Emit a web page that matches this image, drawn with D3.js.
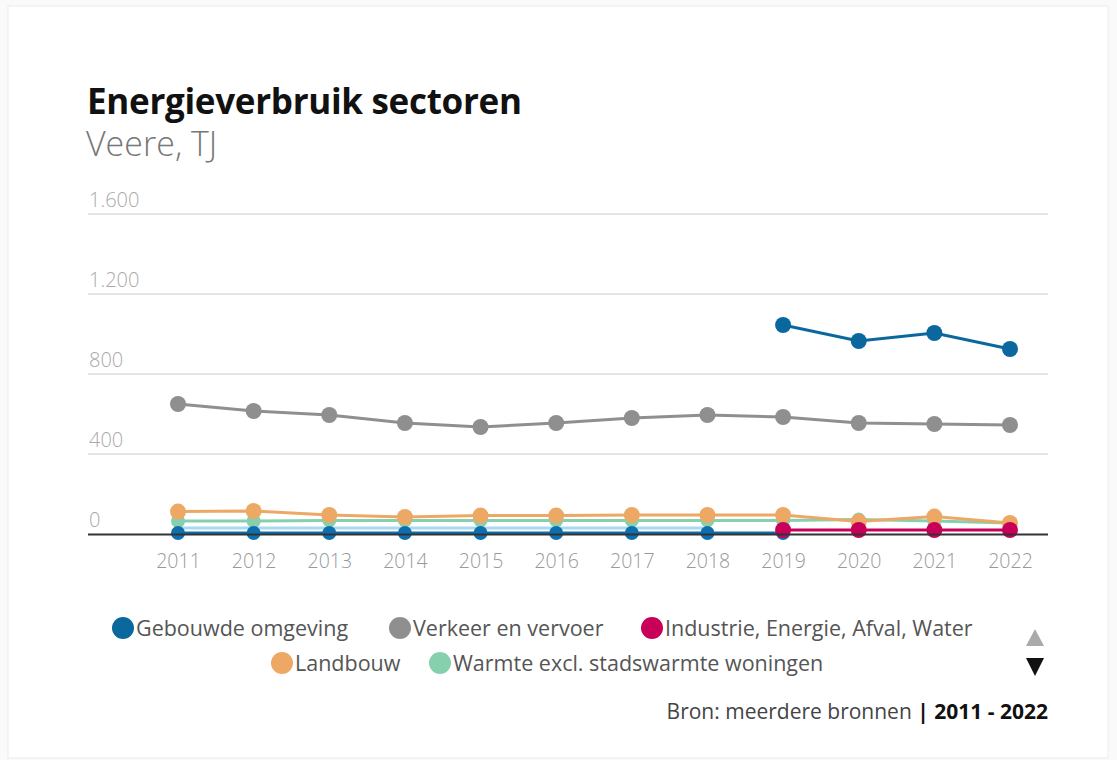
<!DOCTYPE html>
<html>
<head>
<meta charset="utf-8">
<script src="https://cdn.jsdelivr.net/npm/d3@7"></script>
<style>
  body { margin: 0; background: #fafafa; }
  svg { font-family: "Open Sans", "Noto Sans", sans-serif; }
</style>
</head>
<body>
<script>
var years = [2011, 2012, 2013, 2014, 2015, 2016, 2017, 2018, 2019, 2020, 2021, 2022];
var yTicks = [0, 400, 800, 1200, 1600];

// values (TJ), null = no value
var gebouwde   = [null, null, null, null, null, null, null, null, 1045, 965, 1005, 925];
var verkeer    = [650, 615, 595, 555, 535, 555, 580, 595, 585, 555, 550, 545];
var industrie  = [null, null, null, null, null, null, null, null, 20, 20, 20, 20];
var landbouw   = [112, 115, 95, 85, 92, 92, 95, 95, 95, 62, 87, 55];
var warmte     = [65, 65, 68, 68, 68, 68, 68, 68, 68, 72, 65, 55];
// series on the second legend page (only the lines are visible)
var overigLicht = [30, 30, 30, 30, 30, 30, 30, 30, null, null, null, null];
var overigBlauw = [5, 5, 5, 5, 5, 5, 5, 5, 5, null, null, null];

var series = [
  { name: "overig licht", values: overigLicht, color: "#a9d9ef", legend: false, r: 0 },
  { name: "Warmte excl. stadswarmte woningen", values: warmte, color: "#86d0ae", legend: true, r: 7 },
  { name: "Landbouw", values: landbouw, color: "#eda865", legend: true, r: 8 },
  { name: "overig blauw", values: overigBlauw, color: "#0f6fae", legend: false, r: 7 },
  { name: "Industrie, Energie, Afval, Water", values: industrie, color: "#c8005a", legend: true, r: 8 },
  { name: "Verkeer en vervoer", values: verkeer, color: "#8f8f8f", legend: true, r: 8 },
  { name: "Gebouwde omgeving", values: gebouwde, color: "#0a689f", legend: true, r: 8 }
];

var width = 1117, height = 760;
var plot = { left: 88, right: 1048, top: 214, bottom: 534 };

var svg = d3.select("body").append("svg")
  .attr("width", width)
  .attr("height", height);

svg.append("rect")
  .attr("x", 8).attr("y", 6)
  .attr("width", 1100).attr("height", 752)
  .attr("fill", "#fff")
  .attr("stroke", "#ececec");

svg.append("text")
  .attr("x", 87).attr("y", 114)
  .attr("font-size", 35).attr("font-weight", 700)
  .attr("letter-spacing", -0.3)
  .attr("fill", "#111")
  .text("Energieverbruik sectoren");

svg.append("text")
  .attr("x", 86).attr("y", 156)
  .attr("font-size", 34).attr("font-weight", 300)
  .attr("fill", "#777")
  .text("Veere, TJ");

var x = d3.scalePoint().domain(years).range([178, 1010]);
var y = d3.scaleLinear().domain([0, 1600]).range([plot.bottom, plot.top]);

var fmt = d3.formatLocale({ decimal: ",", thousands: ".", grouping: [3], currency: ["€", ""] }).format(",");

// gridlines + labels
var grid = svg.append("g");
yTicks.forEach(function(t) {
  if (t > 0) {
    grid.append("line")
      .attr("x1", plot.left).attr("x2", plot.right)
      .attr("y1", y(t)).attr("y2", y(t))
      .attr("stroke", "#dcdcdc").attr("stroke-width", 1.5);
  }
  grid.append("text")
    .attr("x", 89).attr("y", y(t) - 7)
    .attr("font-size", 20).attr("font-weight", 300)
    .attr("fill", "#aaa")
    .text(fmt(t));
});

var xAxis = svg.append("g")
  .attr("transform", "translate(0," + plot.bottom + ")")
  .call(d3.axisBottom(x).tickSize(0).tickPadding(20));
xAxis.select(".domain").remove();
xAxis.selectAll("text")
  .attr("font-size", 19.5).attr("font-weight", 300)
  .attr("fill", "#999")
  .style("font-family", "'Open Sans', sans-serif");

var line = d3.line()
  .defined(function(d) { return d != null; })
  .x(function(d, i) { return x(years[i]); })
  .y(function(d) { return y(d); });

series.forEach(function(s) {
  var g = svg.append("g");
  g.append("path")
    .datum(s.values)
    .attr("d", line)
    .attr("fill", "none")
    .attr("stroke", s.color)
    .attr("stroke-width", 3);
  g.selectAll("circle")
    .data(s.values.map(function(v, i) { return { v: v, yr: years[i] }; }).filter(function(d) { return d.v != null; }))
    .enter().append("circle")
    .attr("cx", function(d) { return x(d.yr); })
    .attr("cy", function(d) { return y(d.v); })
    .attr("r", s.r)
    .attr("fill", s.color);
});

// baseline
svg.append("line")
  .attr("x1", plot.left).attr("x2", plot.right)
  .attr("y1", plot.bottom + 0.5).attr("y2", plot.bottom + 0.5)
  .attr("stroke", "#333").attr("stroke-width", 2);

// legend
var legendPos = [
  { name: "Gebouwde omgeving", x: 123, y: 628 },
  { name: "Verkeer en vervoer", x: 400, y: 628 },
  { name: "Industrie, Energie, Afval, Water", x: 652, y: 628 },
  { name: "Landbouw", x: 282, y: 663 },
  { name: "Warmte excl. stadswarmte woningen", x: 440, y: 663 }
];
var legend = svg.append("g");
legendPos.forEach(function(p) {
  var s = series.filter(function(d) { return d.name === p.name; })[0];
  legend.append("circle")
    .attr("cx", p.x).attr("cy", p.y).attr("r", 11)
    .attr("fill", s.color);
  legend.append("text")
    .attr("x", p.x + 13).attr("y", p.y + 8)
    .attr("font-size", 21.5)
    .attr("fill", "#555")
    .text(p.name);
});

// paging arrows
svg.append("path")
  .attr("d", "M1026,646 L1044,646 L1035,629 Z")
  .attr("fill", "#aaa");
svg.append("path")
  .attr("d", "M1026,658 L1044,658 L1035,676 Z")
  .attr("fill", "#111");

// source
var src = svg.append("text")
  .attr("x", 1048).attr("y", 719)
  .attr("text-anchor", "end")
  .attr("font-size", 21)
  .attr("fill", "#444");
src.append("tspan").text("Bron: meerdere bronnen ");
src.append("tspan").attr("font-weight", 700).attr("fill", "#111").text("| 2011 - 2022");
</script>
</body>
</html>
